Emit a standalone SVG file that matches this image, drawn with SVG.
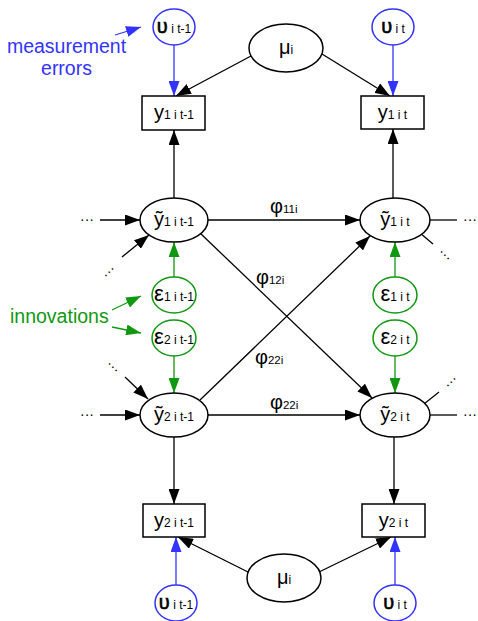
<svg xmlns="http://www.w3.org/2000/svg" width="478" height="621" viewBox="0 0 478 621">
<style>
text{font-family:"Liberation Sans",Arial,sans-serif;font-size:20px;fill:#000}
.sub{font-size:12px}
.phs{font-size:11.5px}
.nb{fill:#fff;stroke:#000;stroke-width:1.5}
.nu{fill:#fff;stroke:#3333ff;stroke-width:1.5}
.ng{fill:#fff;stroke:#109910;stroke-width:1.5}
.k{stroke:#000;stroke-width:1.3;fill:none}
.kb{stroke:#3333ff;stroke-width:1.3;fill:none}
.kg{stroke:#109910;stroke-width:1.3;fill:none}
.blue{fill:#3333ff}
.green{fill:#109910}
.u{stroke:#000;stroke-width:0.6}
.dots{font-size:14px}
</style>
<defs>
<marker id="ak" markerWidth="15" markerHeight="11" refX="15" refY="5.5" orient="auto" markerUnits="userSpaceOnUse"><path d="M0,0 L15,5.5 L0,11 z" fill="#000"/></marker>
<marker id="abl" markerWidth="15" markerHeight="11" refX="15" refY="5.5" orient="auto" markerUnits="userSpaceOnUse"><path d="M0,0 L15,5.5 L0,11 z" fill="#3333ff"/></marker>
<marker id="agr" markerWidth="15" markerHeight="11" refX="15" refY="5.5" orient="auto" markerUnits="userSpaceOnUse"><path d="M0,0 L15,5.5 L0,11 z" fill="#109910"/></marker>
</defs>

<g id="connectors">
<line class="kb" x1="174" y1="45" x2="174" y2="96" marker-end="url(#abl)"/>
<line class="kb" x1="393" y1="45" x2="393" y2="96" marker-end="url(#abl)"/>
<line class="kb" x1="176" y1="585" x2="176" y2="537" marker-end="url(#abl)"/>
<line class="kb" x1="395" y1="585" x2="395" y2="537" marker-end="url(#abl)"/>
<line class="kb" x1="115" y1="35" x2="141" y2="27" marker-end="url(#abl)"/>
<line class="k" x1="251" y1="56" x2="176" y2="96" marker-end="url(#ak)"/>
<line class="k" x1="322" y1="54" x2="390" y2="96" marker-end="url(#ak)"/>
<line class="k" x1="248" y1="572" x2="178" y2="537" marker-end="url(#ak)"/>
<line class="k" x1="319" y1="572" x2="391" y2="537" marker-end="url(#ak)"/>
<line class="k" x1="174" y1="198" x2="174" y2="130" marker-end="url(#ak)"/>
<line class="k" x1="393" y1="198" x2="393" y2="129" marker-end="url(#ak)"/>
<line class="k" x1="174" y1="437" x2="174" y2="504" marker-end="url(#ak)"/>
<line class="k" x1="394" y1="437" x2="394" y2="504" marker-end="url(#ak)"/>
<line class="k" x1="208" y1="220" x2="360" y2="220" marker-end="url(#ak)"/>
<line class="k" x1="208" y1="415" x2="360" y2="415" marker-end="url(#ak)"/>
<line class="k" x1="200" y1="233" x2="372" y2="398" marker-end="url(#ak)"/>
<line class="k" x1="200" y1="400" x2="370" y2="236" marker-end="url(#ak)"/>
<line class="kg" x1="174" y1="277" x2="174" y2="242" marker-end="url(#agr)"/>
<line class="kg" x1="174" y1="356" x2="174" y2="393" marker-end="url(#agr)"/>
<line class="kg" x1="395" y1="277" x2="395" y2="242" marker-end="url(#agr)"/>
<line class="kg" x1="395" y1="356" x2="395" y2="393" marker-end="url(#agr)"/>
<line class="kg" x1="112" y1="310" x2="141" y2="296" marker-end="url(#agr)"/>
<line class="kg" x1="112" y1="327" x2="141" y2="333" marker-end="url(#agr)"/>
<line class="k" x1="100" y1="220" x2="140" y2="220" marker-end="url(#ak)"/>
<line class="k" x1="100" y1="415" x2="140" y2="415" marker-end="url(#ak)"/>
<line class="k" x1="122" y1="257" x2="149" y2="235" marker-end="url(#ak)"/>
<line class="k" x1="125" y1="377" x2="148" y2="399" marker-end="url(#ak)"/>
<line class="k" x1="430" y1="220" x2="457" y2="220"/>
<line class="k" x1="430" y1="415" x2="457" y2="415"/>
<line class="k" x1="420" y1="233" x2="433" y2="244"/>
<line class="k" x1="424" y1="404" x2="439" y2="392"/>
<text class="dots" x="80" y="224">···</text>
<text class="dots" x="80" y="419">···</text>
<text class="dots" x="463" y="224">···</text>
<text class="dots" x="463" y="419">···</text>
<text class="dots" text-anchor="middle" transform="translate(109,272) rotate(-45)" y="4">···</text>
<text class="dots" text-anchor="middle" transform="translate(113,367) rotate(45)" y="4">···</text>
<text class="dots" text-anchor="middle" transform="translate(445,255) rotate(45)" y="4">···</text>
<text class="dots" text-anchor="middle" transform="translate(451,382) rotate(-45)" y="4">···</text>
<text x="270" y="213">φ<tspan class="phs">11i</tspan></text>
<text x="256" y="284">φ<tspan class="phs">12i</tspan></text>
<text x="255" y="364">φ<tspan class="phs">22i</tspan></text>
<text x="270" y="409">φ<tspan class="phs">22i</tspan></text>
</g>

<g id="label-measurement">
<text class="blue" text-anchor="middle" x="66.5" y="53" style="font-size:19.5px">measurement</text>
<text class="blue" text-anchor="middle" x="66.5" y="75" style="font-size:19.5px">errors</text>
</g>
<g id="label-innovations">
<text class="green" x="10" y="323" style="font-size:19.5px">innovations</text>
</g>

<g id="u_top_t1"><ellipse class="nu" cx="174" cy="27" rx="21" ry="18"/><text x="174" y="33" text-anchor="middle"><tspan class="u">υ</tspan><tspan class="sub"> i t-1</tspan></text></g>
<g id="u_top_t"><ellipse class="nu" cx="393" cy="27" rx="21" ry="18"/><text x="393" y="33" text-anchor="middle"><tspan class="u">υ</tspan><tspan class="sub"> i t</tspan></text></g>
<g id="mu_top"><ellipse class="nb" cx="286" cy="48" rx="37" ry="24"/><text x="286" y="54" text-anchor="middle">μ<tspan class="sub">i</tspan></text></g>

<g id="y1_t1"><rect class="nb" x="142" y="96" width="63" height="34"/><text x="174" y="119" text-anchor="middle">y<tspan class="sub">1 i t-1</tspan></text></g>
<g id="y1_t"><rect class="nb" x="361" y="96" width="63" height="33"/><text x="392.5" y="119" text-anchor="middle">y<tspan class="sub">1 i t</tspan></text></g>

<g id="yt1_t1"><ellipse class="nb" cx="174" cy="220" rx="34" ry="22"/><text x="174" y="226" text-anchor="middle">ỹ<tspan class="sub">1 i t-1</tspan></text></g>
<g id="yt1_t"><ellipse class="nb" cx="395" cy="220" rx="35" ry="22"/><text x="395" y="226" text-anchor="middle">ỹ<tspan class="sub">1 i t</tspan></text></g>

<g id="e1_t1"><ellipse class="ng" cx="174" cy="295" rx="22" ry="18"/><text x="174" y="301" text-anchor="middle" style="font-size:22px">ε<tspan class="sub">1 i t-1</tspan></text></g>
<g id="e2_t1"><ellipse class="ng" cx="174" cy="338" rx="22" ry="18"/><text x="174" y="344" text-anchor="middle" style="font-size:22px">ε<tspan class="sub">2 i t-1</tspan></text></g>
<g id="e1_t"><ellipse class="ng" cx="395" cy="295" rx="22" ry="18"/><text x="395" y="301" text-anchor="middle" style="font-size:22px">ε<tspan class="sub">1 i t</tspan></text></g>
<g id="e2_t"><ellipse class="ng" cx="395" cy="338" rx="22" ry="18"/><text x="395" y="344" text-anchor="middle" style="font-size:22px">ε<tspan class="sub">2 i t</tspan></text></g>

<g id="yt2_t1"><ellipse class="nb" cx="174" cy="415" rx="34" ry="22"/><text x="174" y="421" text-anchor="middle">ỹ<tspan class="sub">2 i t-1</tspan></text></g>
<g id="yt2_t"><ellipse class="nb" cx="395" cy="415" rx="35" ry="22"/><text x="395" y="421" text-anchor="middle">ỹ<tspan class="sub">2 i t</tspan></text></g>

<g id="y2_t1"><rect class="nb" x="143" y="504" width="62" height="33"/><text x="174" y="527" text-anchor="middle">y<tspan class="sub">2 i t-1</tspan></text></g>
<g id="y2_t"><rect class="nb" x="362" y="504" width="63" height="33"/><text x="393.5" y="527" text-anchor="middle">y<tspan class="sub">2 i t</tspan></text></g>

<g id="mu_bottom"><ellipse class="nb" cx="284" cy="578" rx="37" ry="24"/><text x="284" y="584" text-anchor="middle">μ<tspan class="sub">i</tspan></text></g>
<g id="u_bot_t1"><ellipse class="nu" cx="176" cy="603" rx="21" ry="18"/><text x="176" y="609" text-anchor="middle"><tspan class="u">υ</tspan><tspan class="sub"> i t-1</tspan></text></g>
<g id="u_bot_t"><ellipse class="nu" cx="395" cy="603" rx="21" ry="18"/><text x="395" y="609" text-anchor="middle"><tspan class="u">υ</tspan><tspan class="sub"> i t</tspan></text></g>
</svg>
